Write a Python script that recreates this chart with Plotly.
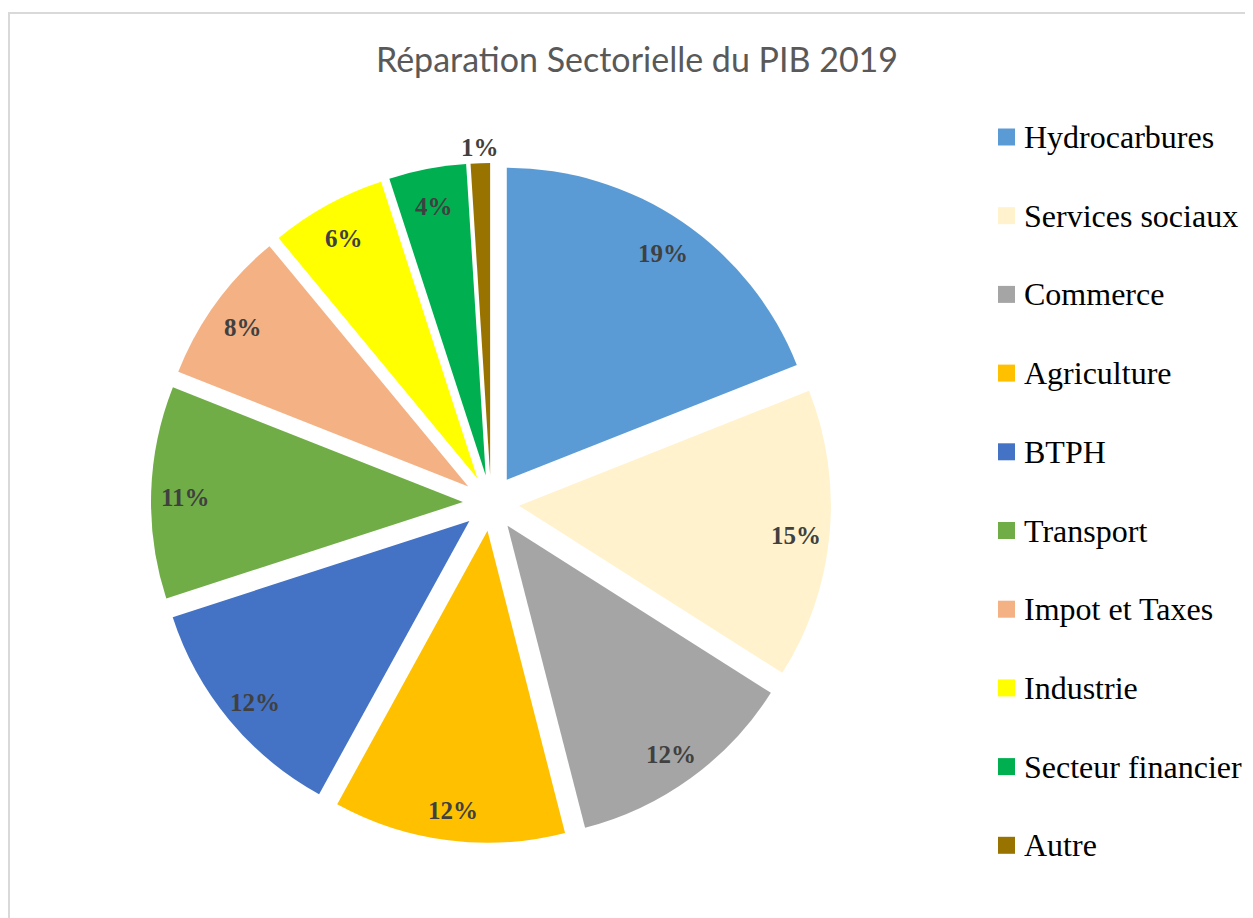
import math
import plotly.graph_objects as go

categories = ["Hydrocarbures", "Services sociaux", "Commerce", "Agriculture", "BTPH",
              "Transport", "Impot et Taxes", "Industrie", "Secteur financier", "Autre"]
values = [19, 15, 12, 12, 12, 11, 8, 6, 4, 1]
colors = ["#5B9BD5", "#FFF2CC", "#A5A5A5", "#FFC000", "#4472C4",
          "#70AD47", "#F4B183", "#FFFF00", "#00B050", "#997300"]
title_text = "Réparation Sectorielle du PIB 2019"

# page has an 8px body margin: figure pixel = reference pixel - 8
OFF = 8
W, H = 1253 - OFF, 918 - OFF


def px(x):
    return (x - OFF) / W


def py(y):
    return (H - (y - OFF)) / H


# pie geometry (reference pixels)
CX, CY = 491, 503
HALF = 340          # half-size of the pie box (radius * (1 + pull))
PULL = 0.09

fig = go.Figure()
fig.add_trace(go.Pie(
    labels=categories,
    values=values,
    sort=False,
    direction="clockwise",
    rotation=0,
    marker=dict(colors=colors, line=dict(width=0)),
    pull=[PULL] * len(values),
    textinfo="none",
    hovertemplate="%{label}: %{percent:.0%}<extra></extra>",
    showlegend=False,
    domain=dict(x=[px(CX - HALF), px(CX + HALF)], y=[py(CY + HALF), py(CY - HALF)]),
))

annotations = []
shapes = []

# percentage labels, placed along each slice's bisector
R_IN, R_OUT = 306, 356
DY_IN = 4
total = sum(values)
cum = 0
for v in values:
    mid = 2 * math.pi * (cum + v / 2) / total
    cum += v
    inside = v / total >= 0.02
    r = R_IN if inside else R_OUT
    lx = CX + r * math.sin(mid)
    ly = CY - r * math.cos(mid) + (DY_IN if inside else 0)
    annotations.append(dict(text=f"{round(100 * v / total)}%", xref="paper", yref="paper",
                            x=px(lx), y=py(ly), xanchor="center", yanchor="middle",
                            showarrow=False,
                            font=dict(family="Liberation Serif", size=25, color="#404040",
                                      weight="bold")))

# chart border
shapes.append(dict(type="rect", xref="paper", yref="paper",
                   x0=px(9), x1=1.2, y0=-0.2, y1=py(13),
                   line=dict(color="#D9D9D9", width=2), fillcolor="rgba(0,0,0,0)"))

# legend drawn as squares + annotations
LY0, LSTEP = 137, 78.7
for i, (cat, col) in enumerate(zip(categories, colors)):
    yc = LY0 + i * LSTEP
    shapes.append(dict(type="rect", xref="paper", yref="paper",
                       x0=px(998), x1=px(1015), y0=py(yc + 8.5), y1=py(yc - 8.5),
                       line=dict(width=0), fillcolor=col))
    annotations.append(dict(text=cat, xref="paper", yref="paper",
                            x=px(1022), y=py(yc), xanchor="left", yanchor="middle",
                            showarrow=False,
                            font=dict(family="Liberation Serif", size=32, color="#000000")))

fig.update_layout(
    width=W, height=H,
    margin=dict(l=0, r=0, t=0, b=0),
    paper_bgcolor="white",
    title=dict(text=title_text, x=px(637), xanchor="center", y=py(60), yanchor="middle",
               font=dict(family="Lato", size=34, color="#595959")),
    shapes=shapes,
    annotations=annotations,
)

fig.write_html("out.html")
